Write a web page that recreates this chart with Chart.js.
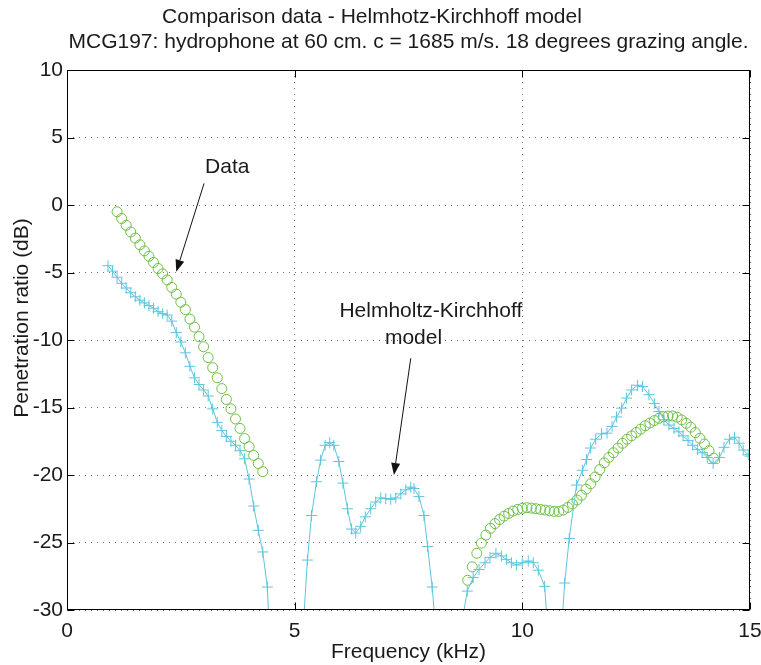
<!DOCTYPE html>
<html>
<head>
<meta charset="utf-8">
<script src="https://cdn.jsdelivr.net/npm/chart.js@4.4.1/dist/chart.umd.min.js"></script>
<style>
  html, body { margin: 0; padding: 0; background: #fff; }
  canvas { display: block; }
</style>
</head>
<body>
<canvas id="chart" width="761" height="665"></canvas>
<script>
// measured data (green circles), two frequency bands
const dataFreqLow = [1.1, 1.2, 1.3, 1.4, 1.5, 1.6, 1.7, 1.8, 1.9, 2.0, 2.1, 2.2, 2.3, 2.4, 2.5, 2.6, 2.7,
  2.8, 2.9, 3.0, 3.1, 3.2, 3.3, 3.4, 3.5, 3.6, 3.7, 3.8, 3.9, 4.0, 4.1, 4.2, 4.3];
const dataDbLow = [-0.5, -1.0, -1.5, -2.0, -2.45, -2.95, -3.4, -3.8, -4.25, -4.7, -5.1, -5.55, -6.1,
  -6.6, -7.2, -7.75, -8.45, -9.05, -9.75, -10.5, -11.3, -12.05, -12.8, -13.6, -14.4, -15.1, -15.85,
  -16.55, -17.3, -17.9, -18.55, -19.15, -19.75];

const dataFreqHigh = [8.8, 8.9, 9.0, 9.1, 9.2, 9.3, 9.4, 9.5, 9.6, 9.7, 9.8, 9.9, 10.0, 10.1, 10.2,
  10.3, 10.4, 10.5, 10.6, 10.7, 10.8, 10.9, 11.0, 11.1, 11.2, 11.3, 11.4, 11.5, 11.6, 11.7, 11.8,
  11.9, 12.0, 12.1, 12.2, 12.3, 12.4, 12.5, 12.6, 12.7, 12.8, 12.9, 13.0, 13.1, 13.2, 13.3, 13.4,
  13.5, 13.6, 13.7, 13.8, 13.9, 14.0, 14.1, 14.2];
const dataDbHigh = [-27.8, -26.8, -25.8, -25.05, -24.45, -23.95, -23.6, -23.3, -23.05, -22.85, -22.67,
  -22.55, -22.47, -22.42, -22.45, -22.5, -22.55, -22.6, -22.65, -22.7, -22.7, -22.6, -22.4, -22.15,
  -21.85, -21.5, -21.05, -20.65, -20.15, -19.6, -19.1, -18.7, -18.35, -18.0, -17.65, -17.35, -17.1,
  -16.85, -16.6, -16.35, -16.15, -15.97, -15.8, -15.68, -15.63, -15.63, -15.72, -15.92, -16.17,
  -16.46, -16.86, -17.28, -17.7, -18.2, -18.75];

// Helmholtz-Kirchhoff model (cyan +), dips below -30 are clipped by the axes
const modelFreq = [0.9, 1.0, 1.1, 1.2, 1.3, 1.4, 1.5, 1.6, 1.7, 1.8, 1.9, 2.0, 2.1, 2.2, 2.3, 2.4, 2.5,
  2.6, 2.7, 2.8, 2.9, 3.0, 3.1, 3.2, 3.3, 3.4, 3.5, 3.6, 3.7, 3.8, 3.9, 4.0, 4.1, 4.2, 4.3, 4.4,
  4.5, 4.8, 5.1,
  5.28, 5.37, 5.48, 5.57, 5.67, 5.77, 5.86, 5.97, 6.06, 6.16, 6.25, 6.34, 6.45, 6.55, 6.67, 6.78,
  6.89, 7.0, 7.11, 7.22, 7.33, 7.44, 7.55, 7.62, 7.73, 7.84, 7.92, 8.02,
  8.12, 8.4, 8.62,
  8.79, 8.92, 9.05, 9.18, 9.29, 9.42, 9.54, 9.65, 9.76, 9.87, 10.0, 10.13, 10.24, 10.35, 10.49,
  10.56, 10.72, 10.86,
  10.93, 11.03, 11.19, 11.32, 11.41, 11.5, 11.61, 11.74, 11.86, 11.97, 12.07, 12.18, 12.29, 12.4,
  12.53, 12.64, 12.78, 12.9, 13.0, 13.11, 13.22, 13.33, 13.44, 13.53, 13.64, 13.74, 13.85, 13.95,
  14.06, 14.19, 14.33, 14.43, 14.55, 14.66, 14.76, 14.85, 14.96, 15.0];
const modelDb = [-4.5, -4.9, -5.35, -5.8, -6.15, -6.5, -6.8, -7.05, -7.25, -7.45, -7.65, -7.9, -8.05,
  -8.15, -8.6, -9.45, -10.15, -10.95, -11.95, -12.8, -13.3, -13.7, -14.15, -15.1, -16.1, -16.7,
  -17.15, -17.5, -17.8, -18.2, -18.8, -20.3, -22.3, -24.1, -25.7, -28.3,
  -36, -45, -36,
  -26.3, -23.0, -20.5, -18.9, -17.8, -17.6, -17.8, -19.0, -20.6, -22.5, -24.0, -24.3, -23.8, -23.1,
  -22.5, -22.0, -21.7, -21.75, -21.8, -21.7, -21.4, -21.1, -20.9, -21.0, -21.6, -23.0, -25.3, -28.3,
  -32.5, -45, -32,
  -28.6, -27.6, -27.0, -26.5, -26.1, -25.8, -26.0, -26.25, -26.5, -26.67, -26.5, -26.37, -26.5,
  -27.05, -28.25,
  -31.5, -40, -31.5,
  -28.0, -24.7, -20.75, -19.65, -18.85, -18.0, -17.35, -16.95, -16.9, -16.4, -15.7, -15.05, -14.3,
  -13.7, -13.35, -13.45, -14.05, -14.7, -15.3, -15.9, -16.3, -16.55, -16.8, -17.1, -17.45, -17.8,
  -18.1, -18.35, -18.7, -19.15, -18.7, -17.95, -17.35, -17.2, -17.65, -18.15, -18.5, -18.6];

const xTicks = [0, 5, 10, 15];
const yTicks = [-30, -25, -20, -15, -10, -5, 0, 5, 10];

const titleLines = ['Comparison data - Helmhotz-Kirchhoff model',
  'MCG197: hydrophone at 60 cm. c = 1685 m/s. 18 degrees grazing angle.'];

// text labels with arrows, in data coordinates
const notes = [
  { lines: ['Data'], at: [[3.52, 2.8]], from: [3.01, 1.6], to: [2.4, -4.95] },
  { lines: ['Helmholtz-Kirchhoff', 'model'], at: [[7.99, -7.9], [7.61, -9.85]], from: [7.55, -11.35], to: [7.18, -20.0] }
];

const FONT = '"Liberation Sans", Arial, Helvetica, sans-serif';
const cyan = '#5cc6dd';
const green = '#6cbf45';

const toXY = (xs, ys) => xs.map((x, i) => ({ x: x, y: ys[i] }));

const overlay = {
  id: 'overlay',
  afterDraw(chart) {
    const { ctx, chartArea: a, scales: { x, y } } = chart;
    ctx.save();
    ctx.strokeStyle = '#000';
    ctx.lineWidth = 1;
    const L = Math.round(a.left) + 0.5, R = Math.round(a.right) - 0.5;
    const T = Math.round(a.top) + 0.5, B = Math.round(a.bottom) - 0.5;
    ctx.strokeRect(L, T, R - L, B - T);

    // inward ticks on all four sides
    ctx.beginPath();
    xTicks.forEach(v => {
      const px = Math.round(x.getPixelForValue(v)) + 0.5;
      ctx.moveTo(px, B); ctx.lineTo(px, B - 7);
      ctx.moveTo(px, T); ctx.lineTo(px, T + 7);
    });
    yTicks.forEach(v => {
      const py = Math.round(y.getPixelForValue(v)) + 0.5;
      ctx.moveTo(L, py); ctx.lineTo(L + 7, py);
      ctx.moveTo(R, py); ctx.lineTo(R - 7, py);
    });
    ctx.stroke();

    // title
    ctx.fillStyle = '#1a1a1a';
    ctx.font = '21px ' + FONT;
    ctx.textAlign = 'center';
    ctx.textBaseline = 'alphabetic';
    ctx.fillText(titleLines[0], 372, 23);
    ctx.fillText(titleLines[1], (a.left + a.right) / 2, 48);

    // y axis title
    ctx.save();
    ctx.translate(22, 318);
    ctx.rotate(-Math.PI / 2);
    ctx.textBaseline = 'middle';
    ctx.fillText('Penetration ratio (dB)', 0, 0);
    ctx.restore();

    // annotations
    notes.forEach(n => {
      ctx.textBaseline = 'middle';
      ctx.fillStyle = '#1a1a1a';
      n.lines.forEach((s, i) => {
        ctx.fillText(s, x.getPixelForValue(n.at[i][0]), y.getPixelForValue(n.at[i][1]));
      });
      const x1 = x.getPixelForValue(n.from[0]), y1 = y.getPixelForValue(n.from[1]);
      const x2 = x.getPixelForValue(n.to[0]), y2 = y.getPixelForValue(n.to[1]);
      const ang = Math.atan2(y2 - y1, x2 - x1);
      const hl = 12, hw = 4.5;
      const bx = x2 - hl * Math.cos(ang), by = y2 - hl * Math.sin(ang);
      ctx.strokeStyle = '#111';
      ctx.beginPath();
      ctx.moveTo(x1, y1); ctx.lineTo(bx, by);
      ctx.stroke();
      ctx.fillStyle = '#111';
      ctx.beginPath();
      ctx.moveTo(x2, y2);
      ctx.lineTo(bx + hw * Math.sin(ang), by - hw * Math.cos(ang));
      ctx.lineTo(bx - hw * Math.sin(ang), by + hw * Math.cos(ang));
      ctx.closePath();
      ctx.fill();
    });
    ctx.restore();
  }
};

const gridOpts = { color: 'rgba(0,0,0,0.55)', lineWidth: 1, drawTicks: false };

new Chart(document.getElementById('chart').getContext('2d'), {
  type: 'line',
  data: {
    datasets: [
      {
        label: 'Helmholtz-Kirchhoff model',
        data: toXY(modelFreq, modelDb),
        borderColor: cyan,
        borderWidth: 1,
        tension: 0,
        fill: false,
        pointStyle: 'cross',
        pointRadius: 5.5,
        pointBorderColor: cyan,
        pointBorderWidth: 1
      },
      {
        label: 'Data',
        data: toXY(dataFreqLow, dataDbLow),
        showLine: false,
        pointStyle: 'circle',
        pointRadius: 5,
        pointBorderColor: green,
        pointBackgroundColor: 'rgba(0,0,0,0)',
        pointBorderWidth: 1
      },
      {
        label: 'Data (high band)',
        data: toXY(dataFreqHigh, dataDbHigh),
        showLine: false,
        pointStyle: 'circle',
        pointRadius: 5,
        pointBorderColor: green,
        pointBackgroundColor: 'rgba(0,0,0,0)',
        pointBorderWidth: 1
      }
    ]
  },
  options: {
    responsive: false,
    animation: false,
    layout: { padding: { top: 70, right: 11, left: 0, bottom: 0 } },
    plugins: {
      legend: { display: false },
      tooltip: { enabled: false },
      title: { display: false }
    },
    scales: {
      x: {
        type: 'linear',
        min: 0,
        max: 15,
        afterBuildTicks: s => { s.ticks = xTicks.map(v => ({ value: v })); },
        afterFit: s => { s.height = 55; s.paddingLeft = 0; s.paddingRight = 0; },
        ticks: { color: '#1a1a1a', padding: 9, maxRotation: 0, font: { family: FONT, size: 21 } },
        grid: gridOpts,
        border: { display: false, dash: [1, 5] },
        title: {
          display: true, text: 'Frequency (kHz)', color: '#1a1a1a',
          padding: { top: 0, bottom: 0 }, font: { family: FONT, size: 21 }
        }
      },
      y: {
        type: 'linear',
        min: -30,
        max: 10,
        afterBuildTicks: s => { s.ticks = yTicks.map(v => ({ value: v })); },
        afterFit: s => { s.width = 67; s.paddingTop = 0; s.paddingBottom = 0; },
        ticks: { color: '#1a1a1a', padding: 4, font: { family: FONT, size: 21 } },
        grid: gridOpts,
        border: { display: false, dash: [1, 5] }
      }
    }
  },
  plugins: [overlay]
});
</script>
</body>
</html>
